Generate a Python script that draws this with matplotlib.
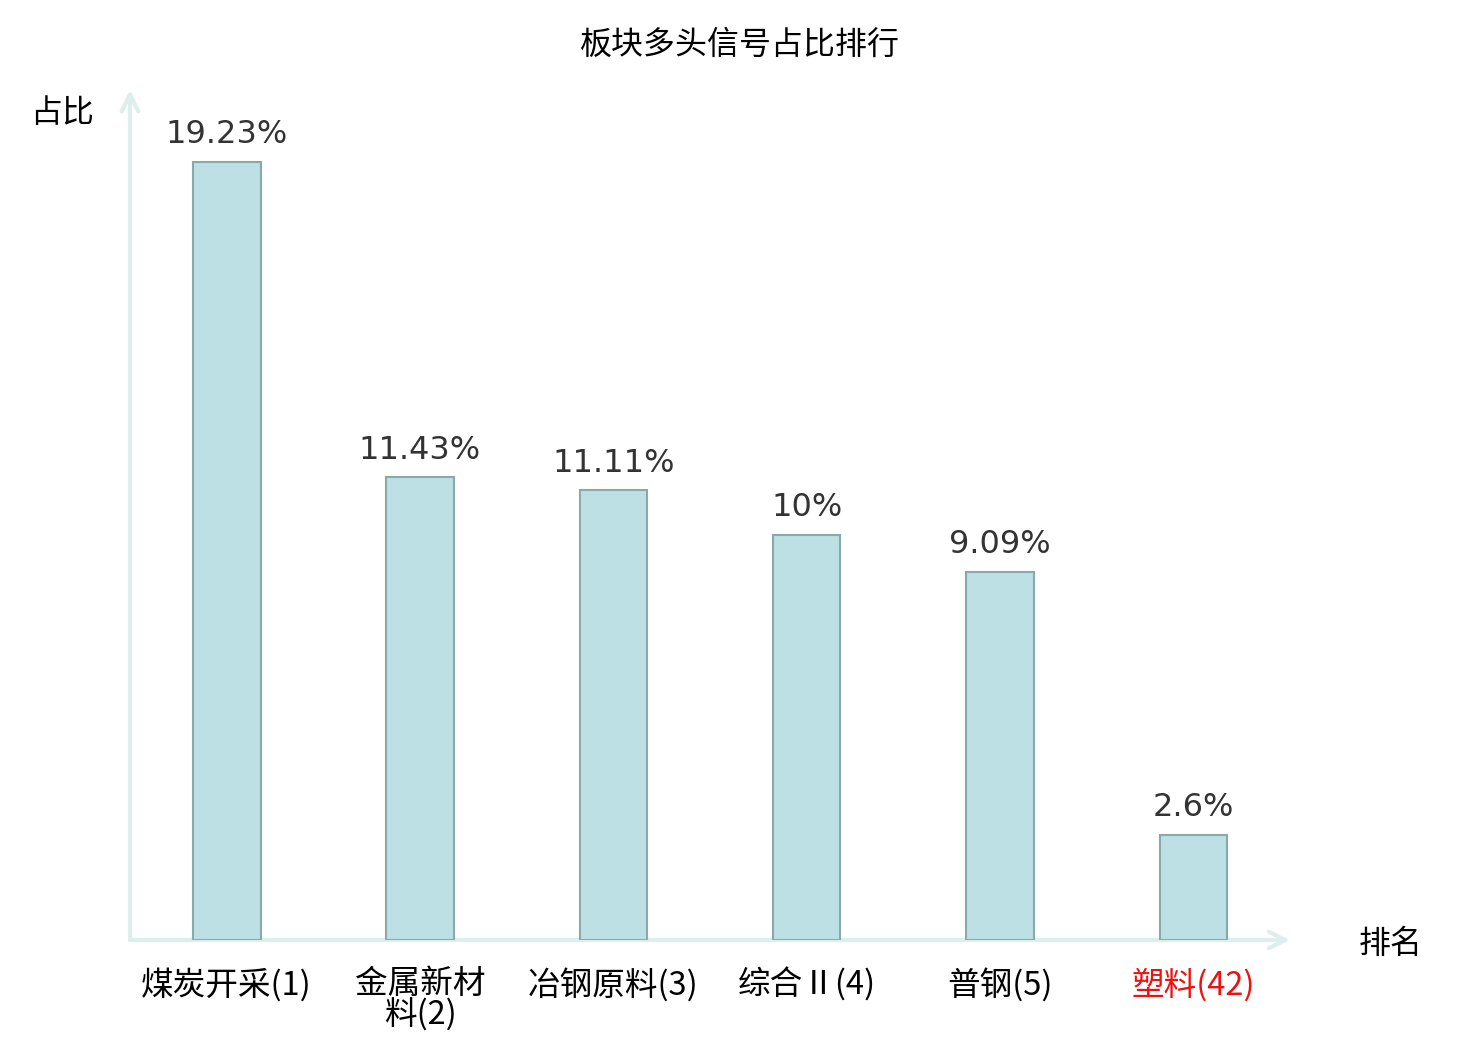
import matplotlib
matplotlib.use("Agg")
import matplotlib.pyplot as plt

plt.rcParams['font.family'] = ['Noto Sans CJK SC', 'DejaVu Sans']

# data
categories = ["煤炭开采(1)", "金属新材\n料(2)", "冶钢原料(3)", "综合Ⅱ(4)", "普钢(5)", "塑料(42)"]
values = [19.23, 11.43, 11.11, 10, 9.09, 2.6]
value_labels = ["19.23%", "11.43%", "11.11%", "10%", "9.09%", "2.6%"]
label_colors = ["black", "black", "black", "black", "black", "#ee1111"]

axis_color = "#dcefed"

fig = plt.figure(figsize=(14.8, 10.4), dpi=100)
ax = fig.add_axes([130 / 1480, 100 / 1040, 1160 / 1480, 850 / 1040])

x = list(range(len(categories)))
ax.bar(x, values, width=0.35, color="#bce0e3", edgecolor="#8aa9a9", linewidth=1.5, zorder=3)

for xi, v, lab in zip(x, values, value_labels):
    ax.annotate(lab, (xi, v), xytext=(0, 8.5), textcoords="offset points",
                ha="center", va="bottom", fontsize=23, color="#333333",
                family="DejaVu Sans")

ax.set_xlim(-0.5, 5.5)
ax.set_ylim(0, 21.0)
ax.set_yticks([])
ax.set_xticks(x)
ax.set_xticklabels(categories, fontsize=23.5, linespacing=0.9)
for t, c in zip(ax.get_xticklabels(), label_colors):
    t.set_color(c)
ax.tick_params(axis="x", length=0, pad=20)

for s in ax.spines.values():
    s.set_visible(False)

# axis arrows
arrow = dict(arrowstyle="->,head_length=1.2,head_width=0.6", color=axis_color, lw=3,
             shrinkA=0, shrinkB=0)
ax.annotate("", xy=(0, 1.0), xytext=(0, 0), xycoords="axes fraction",
            textcoords="axes fraction", arrowprops=arrow, zorder=1)
ax.annotate("", xy=(1.0, 0), xytext=(0, 0), xycoords="axes fraction",
            textcoords="axes fraction", arrowprops=arrow, zorder=1)

fig.text(62 / 1480, 1 - 113 / 1040, "占比", fontsize=23, ha="center", va="center")
fig.text(1391 / 1480, 1 - 944 / 1040, "排名", fontsize=23, ha="center", va="center")
fig.text(740 / 1480, 1 - 45 / 1040, "板块多头信号占比排行", fontsize=23, ha="center", va="center")

fig.savefig("out.png", dpi=100)
